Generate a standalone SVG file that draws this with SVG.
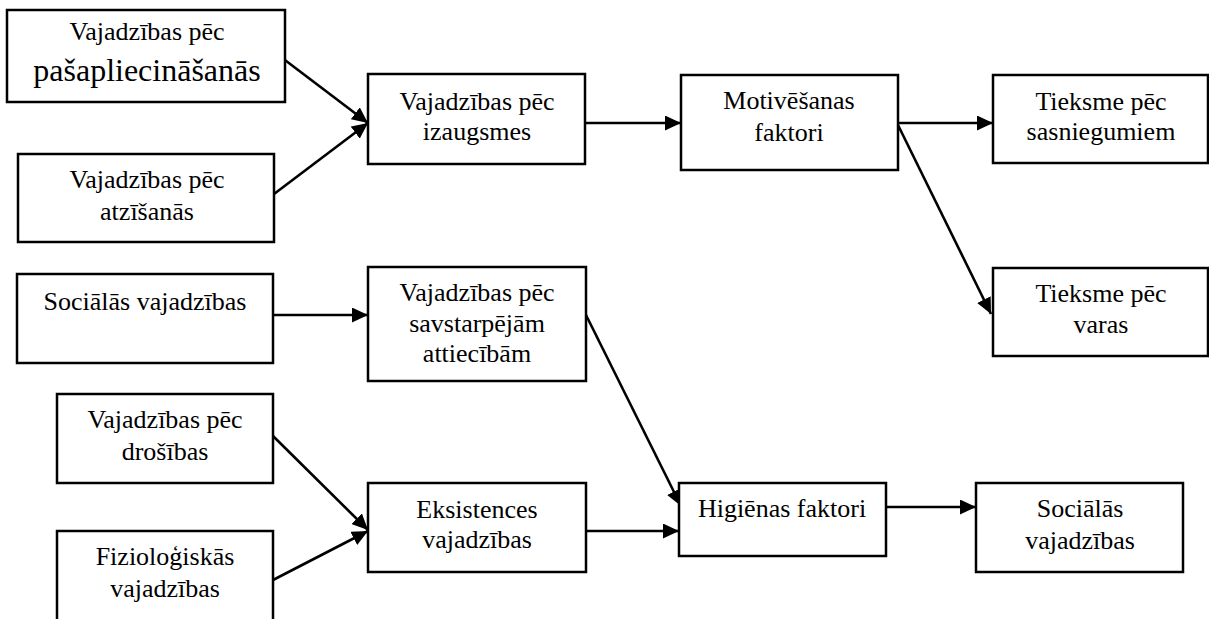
<svg xmlns="http://www.w3.org/2000/svg" width="1209" height="619" viewBox="0 0 1209 619">
  <style>
    .box { fill: #ffffff; stroke: #000000; stroke-width: 2.5; }
    .lbl { font-size: 26px; fill: #000000; text-anchor: middle; }
    .big { font-size: 32px; }
    .edge { stroke: #000000; stroke-width: 2.6; fill: none; marker-end: url(#ah); }
  </style>
  <defs>
    <marker id="ah" markerWidth="16" markerHeight="15" refX="16" refY="7.5" orient="auto" markerUnits="userSpaceOnUse">
      <path d="M0,0 L16,7.5 L0,15 z" fill="#000000"/>
    </marker>
  </defs>
  <rect width="1209" height="619" fill="#ffffff"/>

  <g id="connectors">
    <line class="edge" x1="273" y1="51" x2="368" y2="123"/>
    <line class="edge" x1="274" y1="194" x2="368" y2="123"/>
    <line class="edge" x1="585" y1="123" x2="681" y2="123"/>
    <line class="edge" x1="897" y1="123" x2="993" y2="123"/>
    <line class="edge" x1="897" y1="123" x2="991" y2="314"/>
    <line class="edge" x1="273" y1="315" x2="368" y2="315"/>
    <line class="edge" x1="586" y1="315" x2="681" y2="506"/>
    <line class="edge" x1="273" y1="436" x2="368" y2="530"/>
    <line class="edge" x1="273" y1="580" x2="368" y2="531"/>
    <line class="edge" x1="586" y1="531" x2="679" y2="531"/>
    <line class="edge" x1="886" y1="507" x2="976" y2="507"/>
  </g>

  <g font-family="'Liberation Serif', 'Times New Roman', 'DejaVu Serif', serif">
  <g id="n-pasapliecinasanas">
    <rect class="box" x="7" y="10" width="278" height="92"/>
    <text class="lbl" x="147" y="40">Vajadzības pēc</text>
    <text class="lbl big" x="147" y="81">pašapliecināšanās</text>
  </g>
  <g id="n-atzisanas">
    <rect class="box" x="18" y="154" width="256" height="88"/>
    <text class="lbl" x="147" y="188">Vajadzības pēc</text>
    <text class="lbl" x="147" y="220">atzīšanās</text>
  </g>
  <g id="n-izaugsmes">
    <rect class="box" x="368" y="74" width="217" height="90"/>
    <text class="lbl" x="477" y="110">Vajadzības pēc</text>
    <text class="lbl" x="477" y="140">izaugsmes</text>
  </g>
  <g id="n-motivesanas">
    <rect class="box" x="681" y="75" width="217" height="95"/>
    <text class="lbl" x="789" y="109">Motivēšanas</text>
    <text class="lbl" x="789" y="141">faktori</text>
  </g>
  <g id="n-sasniegumi">
    <rect class="box" x="993" y="75" width="215" height="88"/>
    <text class="lbl" x="1101" y="110">Tieksme pēc</text>
    <text class="lbl" x="1101" y="140">sasniegumiem</text>
  </g>
  <g id="n-varas">
    <rect class="box" x="993" y="268" width="215" height="88"/>
    <text class="lbl" x="1101" y="302">Tieksme pēc</text>
    <text class="lbl" x="1101" y="333">varas</text>
  </g>
  <g id="n-socialas-1">
    <rect class="box" x="17" y="274" width="256" height="89"/>
    <text class="lbl" x="145" y="310">Sociālās vajadzības</text>
  </g>
  <g id="n-savstarpejam">
    <rect class="box" x="368" y="267" width="218" height="114"/>
    <text class="lbl" x="477" y="301">Vajadzības pēc</text>
    <text class="lbl" x="477" y="332">savstarpējām</text>
    <text class="lbl" x="477" y="362">attiecībām</text>
  </g>
  <g id="n-drosibas">
    <rect class="box" x="57" y="394" width="216" height="89"/>
    <text class="lbl" x="165" y="428">Vajadzības pēc</text>
    <text class="lbl" x="165" y="460">drošības</text>
  </g>
  <g id="n-fiziologiskas">
    <rect class="box" x="57" y="531" width="216" height="100"/>
    <text class="lbl" x="165" y="565">Fizioloģiskās</text>
    <text class="lbl" x="165" y="597">vajadzības</text>
  </g>
  <g id="n-eksistences">
    <rect class="box" x="368" y="483" width="218" height="89"/>
    <text class="lbl" x="477" y="518">Eksistences</text>
    <text class="lbl" x="477" y="548">vajadzības</text>
  </g>
  <g id="n-higienas">
    <rect class="box" x="679" y="483" width="207" height="73"/>
    <text class="lbl" x="782" y="517">Higiēnas faktori</text>
  </g>
  <g id="n-socialas-2">
    <rect class="box" x="976" y="483" width="207" height="89"/>
    <text class="lbl" x="1080" y="517">Sociālās</text>
    <text class="lbl" x="1080" y="549">vajadzības</text>
  </g>
  </g>
</svg>
